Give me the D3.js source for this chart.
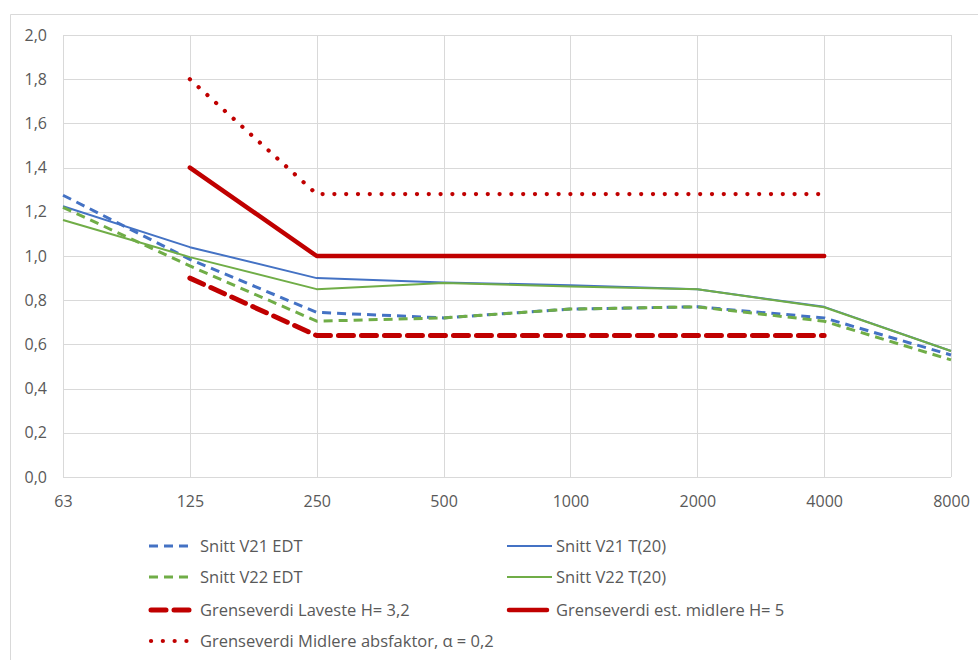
<!DOCTYPE html>
<html>
<head>
<meta charset="utf-8">
<script src="https://cdn.jsdelivr.net/npm/d3@7"></script>
<style>
  html, body { margin: 0; padding: 0; background: #fff; }
  svg { display: block; }
  text { font-family: "Open Sans", "Noto Sans", sans-serif; fill: #595959; }
</style>
</head>
<body>
<svg id="chart" width="978" height="660"></svg>
<script>
// Frequency bands (Hz)
const categories = ["63", "125", "250", "500", "1000", "2000", "4000", "8000"];
const yTicks = [0, 0.2, 0.4, 0.6, 0.8, 1.0, 1.2, 1.4, 1.6, 1.8, 2.0];

// Reverberation values (s); null where a series has no value
const v21EDT = [1.275, 0.985, 0.745, 0.72, 0.76, 0.77, 0.72, 0.552];
const v21T20 = [1.225, 1.04, 0.90, 0.88, 0.868, 0.85, 0.77, 0.57];
const v22EDT = [1.22, 0.955, 0.705, 0.72, 0.76, 0.77, 0.705, 0.53];
const v22T20 = [1.163, 0.995, 0.85, 0.878, 0.862, 0.85, 0.768, 0.57];
const limitLowest = [null, 0.90, 0.64, 0.64, 0.64, 0.64, 0.64, null];
const limitMiddle = [null, 1.40, 1.00, 1.00, 1.00, 1.00, 1.00, null];
const limitAbs = [null, 1.80, 1.28, 1.28, 1.28, 1.28, 1.28, null];

const seriesNames = [
  "Snitt V21 EDT", "Snitt V21 T(20)", "Snitt V22 EDT", "Snitt V22 T(20)",
  "Grenseverdi Laveste H= 3,2", "Grenseverdi est. midlere H= 5",
  "Grenseverdi Midlere absfaktor, \u03b1 = 0,2"
];

const series = [
  { name: seriesNames[0], values: v21EDT, color: "#4472C4", width: 3, dash: "9 6", cap: "butt" },
  { name: seriesNames[1], values: v21T20, color: "#4472C4", width: 2, dash: null, cap: "butt" },
  { name: seriesNames[2], values: v22EDT, color: "#70AD47", width: 3, dash: "9 6", cap: "butt" },
  { name: seriesNames[3], values: v22T20, color: "#70AD47", width: 2, dash: null, cap: "butt" },
  { name: seriesNames[4], values: limitLowest, color: "#C00000", width: 5, dash: "15 8", cap: "round" },
  { name: seriesNames[5], values: limitMiddle, color: "#C00000", width: 4.5, dash: null, cap: "round" },
  { name: seriesNames[6], values: limitAbs, color: "#C00000", width: 4.2, dash: "0.1 11.7", cap: "round" }
];

const svg = d3.select("#chart");

// Chart frame
svg.append("path")
  .attr("d", "M10.5,660 L10.5,14.5 L978,14.5")
  .attr("fill", "none")
  .attr("stroke", "#d9d9d9")
  .attr("stroke-width", 1);

const plot = { left: 63, right: 951, top: 35, bottom: 477 };

const x = d3.scalePoint().domain(categories).range([plot.left, plot.right]).padding(0);
const y = d3.scaleLinear().domain([0, 2]).range([plot.bottom, plot.top]);

// Gridlines
const grid = svg.append("g");
grid.selectAll("line.h").data(yTicks).join("line")
  .attr("x1", plot.left).attr("x2", plot.right)
  .attr("y1", d => Math.round(y(d)) + 0.5).attr("y2", d => Math.round(y(d)) + 0.5)
  .attr("stroke", "#d9d9d9").attr("stroke-width", 1);
grid.selectAll("line.v").data(categories).join("line")
  .attr("x1", d => Math.round(x(d)) + 0.5).attr("x2", d => Math.round(x(d)) + 0.5)
  .attr("y1", plot.top).attr("y2", plot.bottom)
  .attr("stroke", "#d9d9d9").attr("stroke-width", 1);

// Y axis labels
const fmt = d => d3.format(".1f")(d).replace(".", ",");
const yAxis = svg.append("g")
  .attr("transform", `translate(${plot.left - 16},0)`)
  .call(d3.axisLeft(y).tickValues(yTicks).tickFormat(fmt).tickSize(0).tickPadding(0));
yAxis.select(".domain").remove();
yAxis.selectAll("text").attr("font-size", 16).attr("fill", "#595959")
  .style("font-family", "'Open Sans', 'Noto Sans', sans-serif");

// X axis labels
const xAxis = svg.append("g")
  .attr("transform", `translate(0,${plot.bottom + 19})`)
  .call(d3.axisBottom(x).tickSize(0).tickPadding(0));
xAxis.select(".domain").remove();
xAxis.selectAll("text").attr("font-size", 16).attr("fill", "#595959")
  .style("font-family", "'Open Sans', 'Noto Sans', sans-serif");

// Series lines
const line = d3.line()
  .defined(d => d.v !== null)
  .x(d => x(d.c))
  .y(d => y(d.v));

svg.append("g").selectAll("path").data(series).join("path")
  .attr("d", s => line(s.values.map((v, i) => ({ c: categories[i], v }))))
  .attr("fill", "none")
  .attr("stroke", s => s.color)
  .attr("stroke-width", s => s.width)
  .attr("stroke-dasharray", s => s.dash)
  .attr("stroke-linecap", s => s.cap)
  .attr("stroke-linejoin", "round");

// Legend: two columns, four rows
const legendPos = [
  { x: 149, y: 546, tx: 200 }, { x: 507, y: 546, tx: 556 },
  { x: 149, y: 577, tx: 200 }, { x: 507, y: 577, tx: 556 },
  { x: 149, y: 610, tx: 200 }, { x: 507, y: 610, tx: 556 },
  { x: 149, y: 641, tx: 200 }
];
const legend = svg.append("g").selectAll("g").data(series).join("g")
  .attr("transform", (s, i) => `translate(${legendPos[i].x},${legendPos[i].y})`);

legend.append("line")
  .attr("x1", s => s.cap === "round" ? 2 : 0)
  .attr("x2", s => s.cap === "round" ? 40 : 45)
  .attr("y1", 0).attr("y2", 0)
  .attr("stroke", s => s.color)
  .attr("stroke-width", s => s.width)
  .attr("stroke-dasharray", s => s.dash)
  .attr("stroke-linecap", s => s.cap);

legend.append("text")
  .attr("x", (s, i) => legendPos[i].tx - legendPos[i].x)
  .attr("y", 0)
  .attr("dy", "0.35em")
  .attr("font-size", 16.5)
  .text(s => s.name);
</script>
</body>
</html>
